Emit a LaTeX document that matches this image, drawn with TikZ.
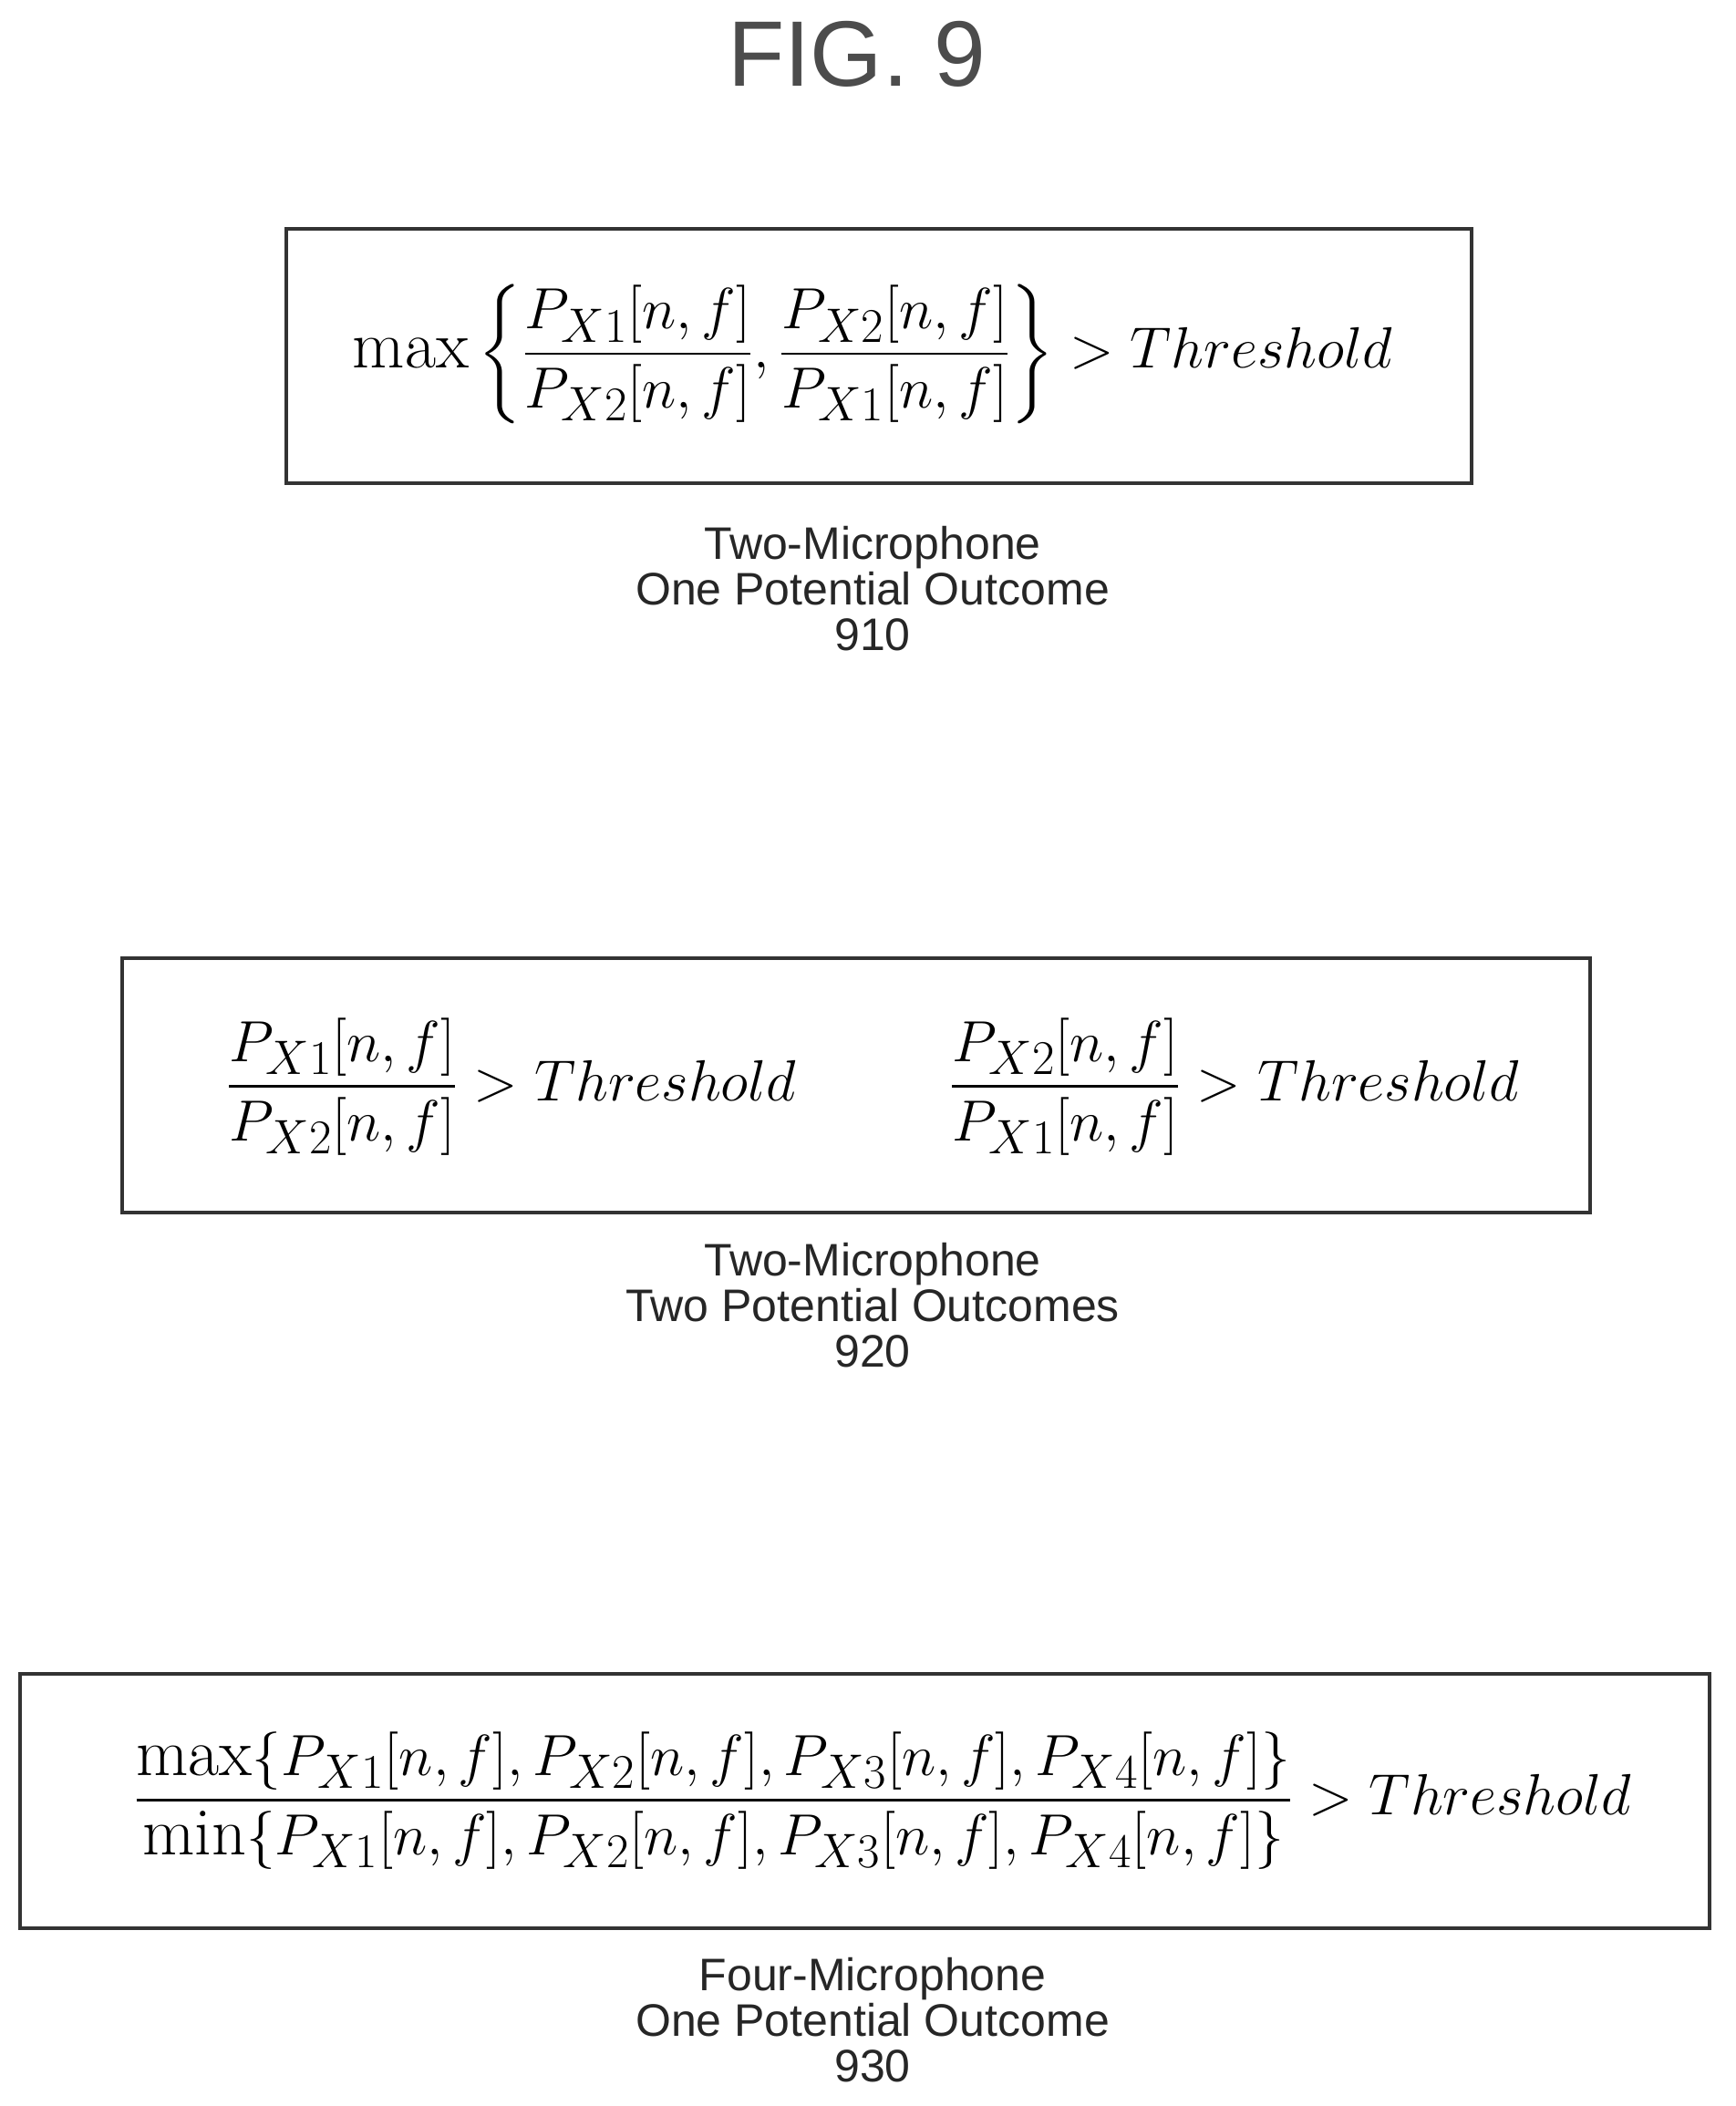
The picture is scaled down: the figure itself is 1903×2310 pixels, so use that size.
\documentclass[tikz,border=0pt]{standalone}
\usepackage{fontspec}
\usepackage{amsmath}
\newfontfamily\lab{Liberation Sans}
\newcommand{\bigeq}[1]{\scalebox{1.28}{\fontsize{29}{34}\selectfont$\displaystyle #1$}}
\begin{document}
\begin{tikzpicture}[x=0.5pt,y=-0.5pt,
  box/.style={draw,line width=1.8pt,draw=black!80},
  lbl/.style={font=\lab\fontsize{25}{25}\selectfont,align=center,text=black!85},
  eq/.style={inner sep=0pt}]
\useasboundingbox (0,0) rectangle (1903,2310);
\node[font=\lab\fontsize{51}{60}\selectfont,text=black!70] (t) at (940,59) {FIG. 9};
\draw[box] (314,251) rectangle (1614,530);
\node[eq] (e1) at (957,388) {\bigeq{\max\left\{\frac{P_{X1}[n,f]}{P_{X2}[n,f]},\frac{P_{X2}[n,f]}{P_{X1}[n,f]}\right\}>Threshold}};
\node[lbl] (l1) at (957,646) {Two-Microphone\\One Potential Outcome\\910};
\draw[box] (134,1051) rectangle (1744,1330);
\node[eq] (e2a) at (561,1192) {\bigeq{\frac{P_{X1}[n,f]}{P_{X2}[n,f]}>Threshold}};
\node[eq] (e2b) at (1354,1192) {\bigeq{\frac{P_{X2}[n,f]}{P_{X1}[n,f]}>Threshold}};
\node[lbl] (l2) at (957,1432) {Two-Microphone\\Two Potential Outcomes\\920};
\draw[box] (22,1836) rectangle (1875,2115);
\node[eq] (e3) at (968,1975) {\bigeq{\frac{\max\{P_{X1}[n,f],P_{X2}[n,f],P_{X3}[n,f],P_{X4}[n,f]\}}{\min\{P_{X1}[n,f],P_{X2}[n,f],P_{X3}[n,f],P_{X4}[n,f]\}}>Threshold}};
\node[lbl] (l3) at (957,2216) {Four-Microphone\\One Potential Outcome\\930};
\end{tikzpicture}
\end{document}
